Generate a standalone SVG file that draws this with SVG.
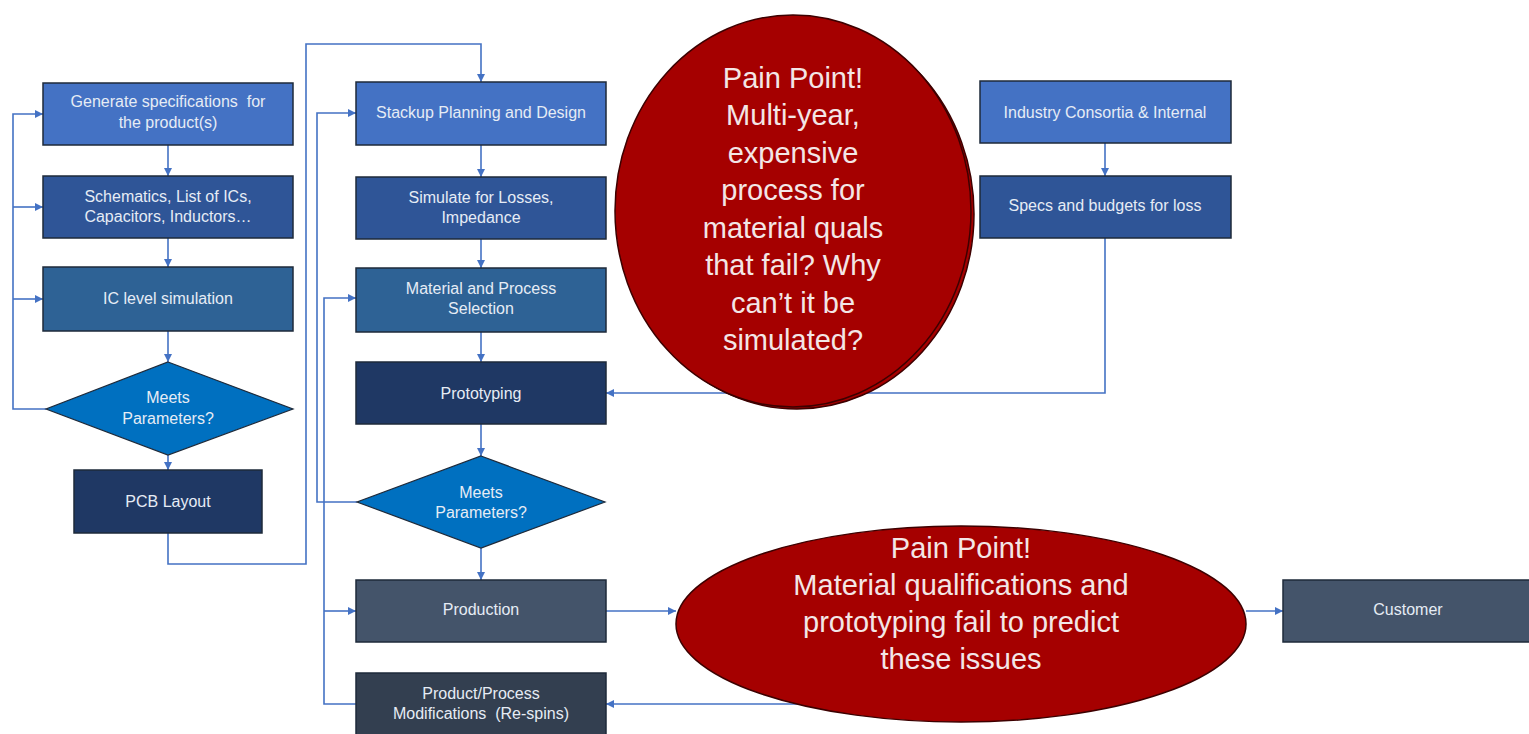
<svg xmlns="http://www.w3.org/2000/svg" width="1529" height="734" viewBox="0 0 1529 734">
<defs>
<marker id="arr" markerWidth="8" markerHeight="8" refX="8" refY="4" orient="auto" markerUnits="userSpaceOnUse">
<path d="M0,0 L8,4 L0,8 z" fill="#4472c4"/>
</marker>
<style>
.box{stroke:#1e2a3a;stroke-width:1.5}
.c1{fill:#4472c4}
.c2{fill:#2f5597}
.c3{fill:#2e6295}
.c4{fill:#1f3864}
.c5{fill:#44546a}
.c6{fill:#333f50}
.dia{fill:#0070c0;stroke:#1e2a3a;stroke-width:1.2}
.t{font-family:"Liberation Sans",Arial,sans-serif;font-size:16px;fill:#e6ecf5;text-anchor:middle}
.pain{fill:#a50000;stroke:#3d0000;stroke-width:1.5}
.pt{font-family:"Liberation Sans",Arial,sans-serif;font-size:29px;fill:#f3e6e6;text-anchor:middle}
.con{fill:none;stroke:#4472c4;stroke-width:1.6}
</style>
</defs>
<rect width="1529" height="734" fill="#ffffff"/>

<g id="connectors">
<path class="con" d="M168,145 V176" marker-end="url(#arr)"/>
<path class="con" d="M168,238 V267" marker-end="url(#arr)"/>
<path class="con" d="M168,331 V362" marker-end="url(#arr)"/>
<path class="con" d="M168,455 V470" marker-end="url(#arr)"/>
<path class="con" d="M46,409 H13 V114 H43" marker-end="url(#arr)"/>
<path class="con" d="M13,207 H43" marker-end="url(#arr)"/>
<path class="con" d="M13,299 H43" marker-end="url(#arr)"/>
<path class="con" d="M168,533 V564 H306 V44 H481 V82" marker-end="url(#arr)"/>
<path class="con" d="M481,145 V177" marker-end="url(#arr)"/>
<path class="con" d="M481,239 V268" marker-end="url(#arr)"/>
<path class="con" d="M481,332 V362" marker-end="url(#arr)"/>
<path class="con" d="M481,424 V456" marker-end="url(#arr)"/>
<path class="con" d="M481,548 V580" marker-end="url(#arr)"/>
<path class="con" d="M357,502 H317 V113 H356" marker-end="url(#arr)"/>
<path class="con" d="M356,704 H324 V298 H356" marker-end="url(#arr)"/>
<path class="con" d="M324,611 H356" marker-end="url(#arr)"/>
<path class="con" d="M606,611 H676" marker-end="url(#arr)"/>
<path class="con" d="M1246,611 H1283" marker-end="url(#arr)"/>
<path class="con" d="M900,704 H606" marker-end="url(#arr)"/>
<path class="con" d="M1105,143 V176" marker-end="url(#arr)"/>
<path class="con" d="M1105,238 V393 H606" marker-end="url(#arr)"/>
</g>

<g id="n-generate">
<rect class="box c1" x="43" y="83" width="250" height="62"/>
<text class="t" x="168" y="107" xml:space="preserve">Generate specifications  for</text>
<text class="t" x="168" y="128">the product(s)</text>
</g>
<g id="n-schematics">
<rect class="box c2" x="43" y="176" width="250" height="62"/>
<text class="t" x="168" y="202">Schematics, List of ICs,</text>
<text class="t" x="168" y="222">Capacitors, Inductors…</text>
</g>
<g id="n-iclevel">
<rect class="box c3" x="43" y="267" width="250" height="64"/>
<text class="t" x="168" y="304">IC level simulation</text>
</g>
<g id="n-meets1">
<polygon class="dia" points="168,362 293,409 168,455 46,409"/>
<text class="t" x="168" y="403">Meets</text>
<text class="t" x="168" y="424">Parameters?</text>
</g>
<g id="n-pcb">
<rect class="box c4" x="74" y="470" width="188" height="63"/>
<text class="t" x="168" y="507">PCB Layout</text>
</g>

<g id="n-stackup">
<rect class="box c1" x="356" y="82" width="250" height="63"/>
<text class="t" x="481" y="118">Stackup Planning and Design</text>
</g>
<g id="n-simulate">
<rect class="box c2" x="356" y="177" width="250" height="62"/>
<text class="t" x="481" y="203">Simulate for Losses,</text>
<text class="t" x="481" y="223">Impedance</text>
</g>
<g id="n-material">
<rect class="box c3" x="356" y="268" width="250" height="64"/>
<text class="t" x="481" y="294">Material and Process</text>
<text class="t" x="481" y="314">Selection</text>
</g>
<g id="n-prototyping">
<rect class="box c4" x="356" y="362" width="250" height="62"/>
<text class="t" x="481" y="399">Prototyping</text>
</g>
<g id="n-meets2">
<polygon class="dia" points="481,456 605,502 481,548 357,502"/>
<text class="t" x="481" y="498">Meets</text>
<text class="t" x="481" y="518">Parameters?</text>
</g>
<g id="n-production">
<rect class="box c5" x="356" y="580" width="250" height="62"/>
<text class="t" x="481" y="615">Production</text>
</g>
<g id="n-modifications">
<rect class="box c6" x="356" y="673" width="250" height="64"/>
<text class="t" x="481" y="699">Product/Process</text>
<text class="t" x="481" y="719" xml:space="preserve">Modifications  (Re-spins)</text>
</g>

<g id="n-industry">
<rect class="box c1" x="980" y="81" width="251" height="62"/>
<text class="t" x="1105" y="118">Industry Consortia &amp; Internal</text>
</g>
<g id="n-specs">
<rect class="box c2" x="980" y="176" width="251" height="62"/>
<text class="t" x="1105" y="211">Specs and budgets for loss</text>
</g>

<g id="n-pain1">
<ellipse class="pain" cx="797" cy="214" rx="177" ry="195"/>
<ellipse class="pain" cx="793" cy="211" rx="178" ry="196"/>
<text class="pt" x="793" y="88">Pain Point!</text>
<text class="pt" x="793" y="125">Multi-year,</text>
<text class="pt" x="793" y="163">expensive</text>
<text class="pt" x="793" y="200">process for</text>
<text class="pt" x="793" y="238">material quals</text>
<text class="pt" x="793" y="275">that fail? Why</text>
<text class="pt" x="793" y="313">can’t it be</text>
<text class="pt" x="793" y="350">simulated?</text>
</g>

<g id="n-pain2">
<ellipse class="pain" cx="961" cy="624" rx="285" ry="98"/>
<text class="pt" x="961" y="558">Pain Point!</text>
<text class="pt" x="961" y="595">Material qualifications and</text>
<text class="pt" x="961" y="632">prototyping fail to predict</text>
<text class="pt" x="961" y="669">these issues</text>
</g>

<g id="n-customer">
<rect class="box c5" x="1283" y="580" width="252" height="62"/>
<text class="t" x="1408" y="615">Customer</text>
</g>
</svg>
